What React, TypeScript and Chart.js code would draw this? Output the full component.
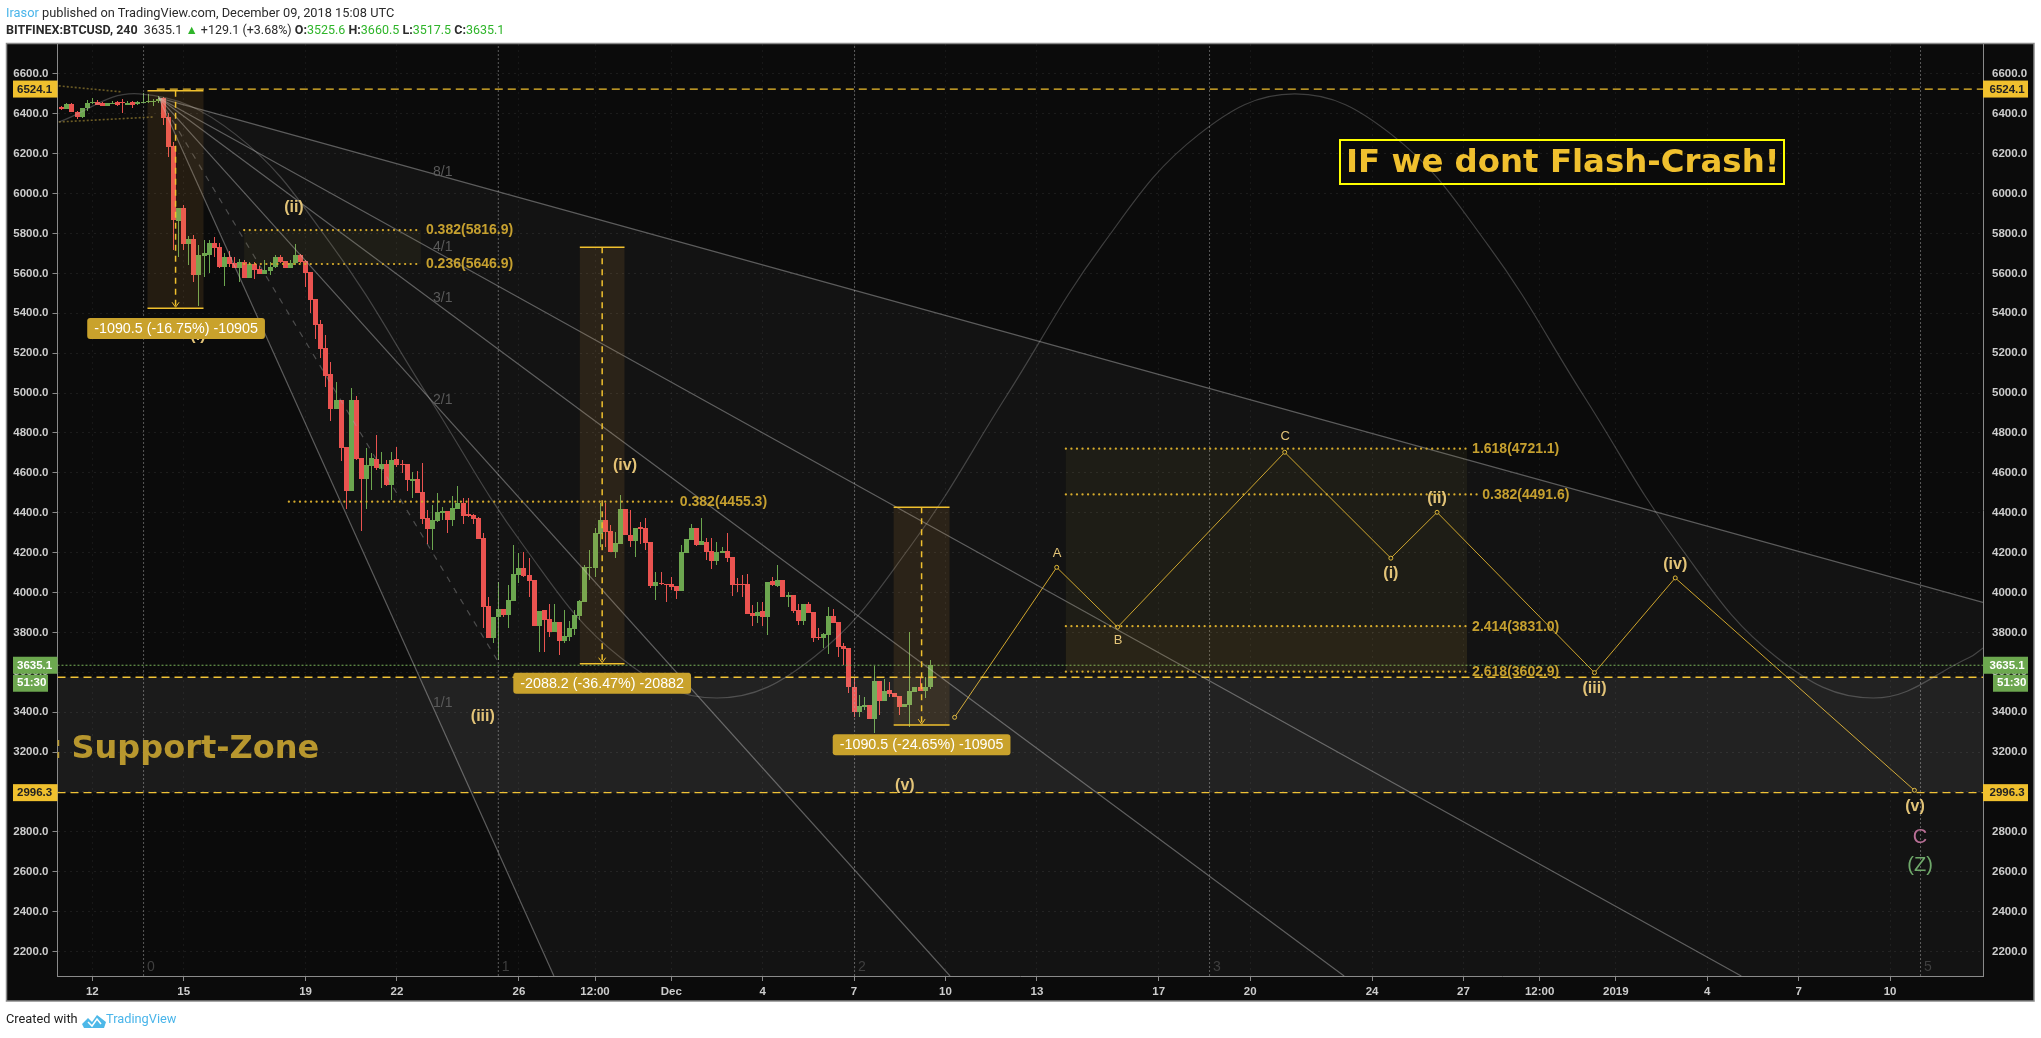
import React, { useEffect, useRef } from "react";
import { Chart } from "chart.js/auto";

// ---------- candle values, bar index -6 .. 165 (bar = 4h, 0 = 12 Nov 00:00) ----------
const firstBar = -6;
const opens = [6436,6425,6450,6411,6386,6428,6453,6460,6453,6441,6451,6460,6456,6446,6460,6450,6456,6458,6461,6463,
6478,6384,6239,5863,5926,5748,5773,5592,5689,5692,5754,5734,5632,5682,5654,5629,5659,5577,5647,5624,5597,5614,5631,5684,5662,5629,5651,5692,
5662,5607,5472,5346,5224,5096,4920,4965,4730,4511,4965,4673,4569,4636,4670,4621,4643,4539,4670,4643,4643,4561,4569,4502,4372,4319,4360,4400,4409,4364,4420,4449,4392,4389,4372,
4273,3932,3770,3876,3916,3887,3958,4088,4125,4088,4063,3834,3911,3866,3802,3852,3759,3779,3819,3884,3954,4125,4125,4293,4364,4309,4203,4243,4419,4288,4258,4327,4324,4252,4033,4049,4044,4041,4033,
4008,4198,4265,4324,4238,4252,4208,4156,4198,4210,4176,4043,4041,4041,3896,3882,3907,3879,4059,4034,4063,3979,3988,3912,3857,3942,3902,3777,3770,3787,3882,3851,3732,3722,3528,3403,3428,3434,3366,3556,3456,3511,3495,3483,3424,3436,3500,3525,3508,3525.6];
const closes = [6425,6450,6411,6386,6428,6456,6461,6446,6441,6453,6456,6445,6452,6456,6443,6460,6461,6463,6466,6475,
6381,6236,5868,5926,5748,5773,5592,5692,5704,5754,5729,5632,5682,5647,5629,5657,5577,5647,5617,5597,5617,5634,5684,5659,5629,5654,5692,5659,
5604,5467,5341,5221,5087,4920,4965,4726,4511,4965,4671,4569,4639,4673,4623,4643,4539,4664,4639,4638,4564,4569,4501,4370,4319,4364,4404,4409,4364,4424,4449,4385,4385,4369,4270,
3929,3770,3876,3916,3887,3963,4093,4125,4085,4059,3834,3907,3862,3802,3852,3759,3782,3822,3887,3958,4126,4130,4297,4364,4305,4203,4250,4419,4288,4260,4322,4320,4250,4033,4053,4043,4038,4029,4008,
4201,4268,4324,4238,4258,4203,4158,4201,4210,4173,4038,4038,4038,3892,3882,3902,3879,4053,4036,4063,3979,3986,3909,3857,3942,3899,3774,3770,3792,3882,3849,3729,3719,3525,3403,3431,3434,3366,3556,3458,3506,3491,3478,3428,3439,3505,3525,3508,3525,3635.1];
const highs = [6440,6452,6452,6412,6430,6470,6480,6470,6458,6456,6462,6462,6473,6462,6464,6465,6503,6500,6475,6488,
6485,6403,6261,5926,5943,5788,5793,5743,5768,5768,5781,5751,5701,5714,5684,5672,5667,5659,5656,5637,5667,5659,5692,5692,5662,5667,5748,5697,
5667,5607,5472,5366,5291,5154,5057,4965,4730,5024,4985,4673,4723,4698,4790,4706,4664,4706,4730,4664,4643,4606,4611,4648,4414,4439,4497,4431,4409,4486,4534,4472,4472,4394,4377,
4297,3979,3876,4054,3916,4038,4238,4197,4205,4171,4063,3907,3911,3942,3942,3852,3912,3859,3912,3963,4138,4213,4322,4451,4447,4339,4305,4489,4419,4414,4322,4355,4372,4252,4103,4101,4044,4080,4033,
4238,4268,4344,4324,4372,4272,4272,4255,4230,4297,4176,4071,4088,4093,3937,3954,3954,4053,4080,4138,4063,4004,3988,3941,3942,3954,3902,3820,3795,3926,3916,3851,3745,3722,3578,3486,3478,3434,3633,3556,3566,3553,3495,3483,3439,3800,3525,3578,3578,3660.5];
const lows = [6420,6424,6410,6375,6380,6415,6450,6444,6440,6440,6448,6440,6403,6444,6430,6446,6453,6456,6440,6455,
6344,6185,5717,5684,5717,5642,5559,5437,5584,5600,5684,5626,5539,5634,5626,5559,5577,5577,5570,5597,5597,5592,5626,5651,5626,5626,5642,5654,
5534,5403,5271,5174,5032,4862,4920,4659,4417,4511,4664,4310,4417,4514,4614,4526,4534,4464,4631,4598,4509,4472,4497,4344,4243,4213,4355,4364,4300,4335,4422,4344,4380,4344,4270,
3824,3770,3745,3662,3879,3824,3958,4046,4080,3979,3834,3700,3703,3775,3802,3687,3745,3759,3787,3862,3954,4063,4080,4230,4230,4203,4171,4243,4288,4230,4180,4243,4213,4021,3963,4036,3954,4013,3968,
4008,4198,4265,4233,4238,4163,4116,4138,4198,4151,3983,4004,3979,3892,3832,3846,3832,3787,4034,4029,3976,3929,3899,3837,3837,3896,3754,3762,3720,3692,3846,3678,3637,3495,3374,3378,3411,3366,3294,3386,3456,3478,3474,3386,3424,3327,3500,3508,3470,3517.5];

// ---------- axes ----------
const yTicks = [6600,6400,6200,6000,5800,5600,5400,5200,5000,4800,4600,4400,4200,4000,3800,3600,3400,3200,3000,2800,2600,2400,2200];
const xTickBars = [0,18,42,60,84,99,114,132,150,168,186,210,228,252,270,285,300,318,336,354];
const xTickLabels = ["12","15","19","22","26","12:00","Dec","4","7","10","13","17","20","24","27","12:00","2019","4","7","10"];
const xMin = -6.85, xMax = 372.3, yMin = 2077, yMax = 6750;

// ---------- drawings ----------
const fanApex = [13.1, 6480];
const fanEnds = [[372.3,3950],[324.7,2077],[246.5,2077],[168.9,2077],[90.9,2077]];
const fanNames = ["8/1","4/1","3/1","2/1","1/1"];
const fanLabelBar = 69;
const fanLabelPrices = [6109,5733,5477,4965,3446];
const fanDashEnd = [79.7,3662];
const sineBars = [-6.6,9.2,28.2,47.1,66.1,85.1,104,123,142,161,180,198.9,217.9,236.8,255.8,274.8,293.7,312.7,331.7,350.7,369.6,372.3];
const sinePrices = [6359,6500,6297,5743,4985,4228,3674,3471,3674,4228,4985,5743,6297,6500,6297,5743,4985,4228,3674,3471,3674,3722];
const waveBars = [169.8,189.9,201.9,234.8,255.7,264.8,295.8,311.7,358.8];
const wavePrices = [3374,4126,3826,4703,4172,4402,3598,4073,3008];
const timeZoneBars = [10.1,79.95,150.1,220,360];
const timeZoneNames = ["0","1","2","3","5"];
const hLevelHigh = 6524.1, hLevelMid = 3575, hLevelLow = 2996.3, lastPrice = 3635.1;
const hHighStart = 12.7;
const leftDots = [[[-6.6,6540],[5.7,6510]],[[-6.6,6359],[12,6384]]];

// [barFrom, barTo, priceTop, priceBottom, arrowBar, text, textBar, textPrice]
const measures: [number,number,number,number,number,string,number,number][] = [
  [10.87,21.9,6515,5425,16.4,"-1090.5 (-16.75%) -10905",16.5,5324],
  [96,104.8,5731,3643,100.4,"-2088.2 (-36.47%) -20882",100.4,3545],
  [157.8,168.8,4427,3335,163.3,"-1090.5 (-24.65%) -10905",163.3,3237],
];
// [barFrom, barTo, price, text, textBar]
const fibLevels: [number,number,number,string,number][] = [
  [29.9,64.7,5816.9,"0.382(5816.9)",65.7],
  [29.9,64.7,5646.9,"0.236(5646.9)",65.7],
  [38.7,115.1,4455.3,"0.382(4455.3)",115.7],
  [191.7,270.7,4721.1,"1.618(4721.1)",271.7],
  [191.7,272.6,4491.6,"0.382(4491.6)",273.7],
  [191.7,270.7,3831.0,"2.414(3831.0)",271.7],
  [191.7,270.7,3602.9,"2.618(3602.9)",271.7],
];
const fibFills: [number,number,number,number,string][] = [
  [29.9,64.7,5816.9,5646.9,"rgba(190,170,70,0.07)"],
  [191.7,270.7,4721.1,3602.9,"rgba(190,170,70,0.07)"],
  [191.7,270.7,3831.0,3602.9,"rgba(200,140,40,0.07)"],
];
const tanText = "#e3c478";
// [text, bar, price, colour, font]
const waveTexts: [string,number,number,string,string][] = [
  ["(ii)",39.7,5928,tanText,"bold 16px 'Liberation Sans'"],
  ["(i)",20.8,5286,tanText,"bold 16px 'Liberation Sans'"],
  ["(iii)",76.9,3376,tanText,"bold 16px 'Liberation Sans'"],
  ["(iv)",104.9,4634,tanText,"bold 16px 'Liberation Sans'"],
  ["(v)",160,3030,tanText,"bold 16px 'Liberation Sans'"],
  ["A",190,4198,tanText,"13px 'Liberation Sans'"],
  ["B",202,3762,tanText,"13px 'Liberation Sans'"],
  ["C",234.9,4780,tanText,"13px 'Liberation Sans'"],
  ["(i)",255.7,4093,tanText,"bold 16px 'Liberation Sans'"],
  ["(ii)",264.8,4471,tanText,"bold 16px 'Liberation Sans'"],
  ["(iii)",295.8,3518,tanText,"bold 16px 'Liberation Sans'"],
  ["(iv)",311.7,4138,tanText,"bold 16px 'Liberation Sans'"],
  ["(v)",358.9,2925,tanText,"bold 16px 'Liberation Sans'"],
  ["C",359.9,2774,"#b96f96","20px 'Liberation Sans'"],
  ["(Z)",359.9,2630,"#6fa86a","20px 'Liberation Sans'"],
];
// [price, text, background, foreground]
const priceTags: [number,string,string,string][] = [
  [hLevelHigh,"6524.1","#f0c02e","#222"],
  [lastPrice,"3635.1","#6ca84f","#fff"],
  [hLevelLow,"2996.3","#f0c02e","#222"],
];
const timerText = "51:30";

const RED = "#ea5350", GREEN = "#6ca64f";
const GOLD = "#f0c02e";
const FONT = "'Liberation Sans', Arial, sans-serif";

const bars = opens.map((_, i) => firstBar + i);
const candleColors = opens.map((o, i) => (closes[i] >= o ? GREEN : RED));

function seg(points: number[][], color: string, width = 1, dash: number[] = [], extra: any = {}) {
  return {
    type: "line", data: points.map(([x, y]) => ({ x, y })), borderColor: color, borderWidth: width,
    borderDash: dash, pointRadius: 0, fill: false, tension: 0, order: 1, xAxisID: "x", yAxisID: "y", ...extra,
  };
}

const drawings = {
  id: "drawings",
  beforeDraw(chart: any) {
    const c = chart.ctx;
    c.save();
    c.fillStyle = "#ffffff";
    c.fillRect(0, 0, chart.width, chart.height);
    c.fillStyle = "#0b0b0b";
    c.fillRect(6.5, 43.5, 2034 - 6.5, 1001 - 43.5);
    c.strokeStyle = "#8a8a8a";
    c.lineWidth = 1.5;
    c.strokeRect(6.5, 43.5, 2034 - 6.5, 1001 - 43.5);
    c.restore();
  },
  beforeDatasetsDraw(chart: any) {
    const c = chart.ctx, X = (v: number) => chart.scales.x.getPixelForValue(v), Y = (v: number) => chart.scales.y.getPixelForValue(v);
    const a = chart.chartArea;
    // keep candles on whole pixels so that bodies and wicks stay crisp
    [0, 1].forEach((i) => chart.getDatasetMeta(i).data.forEach((el: any) => {
      el.x = Math.floor(el.x) + 0.5;
      el.y = Math.round(el.y);
      el.base = Math.round(el.base);
    }));
    c.save();
    c.beginPath(); c.rect(a.left, a.top, a.right - a.left, a.bottom - a.top); c.clip();
    c.fillStyle = "rgba(255,255,255,0.035)";
    c.beginPath();
    c.moveTo(X(fanApex[0]), Y(fanApex[1]));
    c.lineTo(X(fanEnds[4][0]), Y(fanEnds[4][1]));
    c.lineTo(a.right, a.bottom);
    c.lineTo(X(fanEnds[0][0]), Y(fanEnds[0][1]));
    c.closePath(); c.fill();
    c.restore();
  },
  afterDatasetsDraw(chart: any) {
    const c = chart.ctx, X = (v: number) => chart.scales.x.getPixelForValue(v), Y = (v: number) => chart.scales.y.getPixelForValue(v);
    const a = chart.chartArea;
    c.save();
    c.beginPath(); c.rect(a.left, a.top, a.right - a.left, a.bottom - a.top); c.clip();
    // support zone
    c.fillStyle = "rgba(255,255,255,0.065)";
    c.fillRect(a.left, Y(hLevelMid), a.right - a.left, Y(hLevelLow) - Y(hLevelMid));
    // fib fills and levels
    fibFills.forEach(([f, t, p1, p2, col]) => {
      c.fillStyle = col;
      c.fillRect(X(f), Y(p1), X(t) - X(f), Y(p2) - Y(p1));
    });
    c.textBaseline = "middle";
    fibLevels.forEach(([f, t, p, text, tx]) => {
      c.strokeStyle = "#d6ab2c"; c.lineWidth = 2.2; c.lineCap = "round"; c.setLineDash([0.1, 5.45]);
      c.beginPath(); c.moveTo(X(f), Y(p)); c.lineTo(X(t), Y(p)); c.stroke();
      c.setLineDash([]); c.lineCap = "butt";
      c.fillStyle = "#c6a02f"; c.font = `bold 14px ${FONT}`; c.textAlign = "left";
      c.fillText(text, X(tx), Y(p) + 0.5);
    });
    // fan and time-zone labels
    c.fillStyle = "#5a5a5a"; c.font = `14px ${FONT}`;
    fanNames.forEach((n, i) => { c.textAlign = "center"; c.fillText(n, X(fanLabelBar), Y(fanLabelPrices[i])); });
    c.textAlign = "left";
    c.fillStyle = "#3f3f3f";
    timeZoneNames.forEach((n, i) => c.fillText(n, X(timeZoneBars[i]) + 3.5, Y(2122)));
    // wave labels (drawn below the measure tags)
    c.textAlign = "center";
    waveTexts.forEach(([t, b, p, col, font]) => { c.fillStyle = col; c.font = font; c.fillText(t, X(b), Y(p)); });
    // measures
    measures.forEach(([f, t, top, bot, arrow]) => {
      c.fillStyle = "rgba(240,165,70,0.115)";
      c.fillRect(X(f), Y(top), X(t) - X(f), Y(bot) - Y(top));
      c.strokeStyle = GOLD; c.lineWidth = 1.5;
      c.beginPath(); c.moveTo(X(f), Y(top)); c.lineTo(X(t), Y(top));
      c.moveTo(X(f), Y(bot)); c.lineTo(X(t), Y(bot)); c.stroke();
      c.setLineDash([6, 5]);
      c.beginPath(); c.moveTo(X(arrow), Y(top)); c.lineTo(X(arrow), Y(bot)); c.stroke();
      c.setLineDash([]); c.lineWidth = 1;
      c.beginPath(); c.moveTo(X(arrow) - 3.5, Y(bot) - 6); c.lineTo(X(arrow), Y(bot) - 1); c.lineTo(X(arrow) + 3.5, Y(bot) - 6); c.stroke();
    });
    c.fillStyle = "#b8972e"; c.font = "bold 32px 'DejaVu Sans'"; c.textAlign = "left";
    c.fillText(":", 50, Y(3210));
    c.fillText("Support-Zone", 71.5, Y(3210));
    // headline box
    c.strokeStyle = "#ffff00"; c.lineWidth = 2;
    c.strokeRect(1340, 140, 444, 44);
    c.fillStyle = "#f0c02e"; c.font = "bold 32.4px 'DejaVu Sans'"; c.textAlign = "left";
    c.fillText("IF we dont Flash-Crash!", 1346, 163.5);
    // measure tags on top
    measures.forEach(([, , , , , text, tb, tp]) => {
      c.font = `14.3px ${FONT}`; c.textAlign = "center";
      const w = c.measureText(text).width + 14;
      c.fillStyle = "#c9a22c";
      c.beginPath(); c.roundRect(X(tb) - w / 2, Y(tp) - 10.5, w, 21, 3); c.fill();
      c.fillStyle = "#fff";
      c.fillText(text, X(tb), Y(tp) + 0.5);
    });
    c.restore();
    // price tags on both axes
    c.save();
    c.textBaseline = "middle"; c.textAlign = "left"; c.font = `bold 11.5px ${FONT}`;
    priceTags.forEach(([p, text, bg, fg]) => {
      const y = Y(p);
      c.fillStyle = bg;
      c.fillRect(13, y - 8.5, a.left - 13, 17);
      c.fillRect(a.right, y - 8.5, 2028 - a.right, 17);
      c.fillStyle = fg;
      c.fillText(text, 17, y + 0.5);
      c.fillText(text, a.right + 6.5, y + 0.5);
    });
    const ty = Y(lastPrice) + 17.5;
    c.fillStyle = GREEN;
    c.fillRect(13, ty - 8, 35, 17);
    c.fillRect(1993, ty - 8, 35, 17);
    c.fillStyle = "#fff";
    c.fillText(timerText, 17, ty + 0.5);
    c.fillText(timerText, 1997, ty + 0.5);
    c.restore();
  },
};

const lineStyle: React.CSSProperties = {
  position: "absolute", left: 6, whiteSpace: "pre", fontFamily: "Roboto, sans-serif", fontSize: 12.8, color: "#2b2b2b", lineHeight: "16px",
};
const up: React.CSSProperties = { color: "#2fb52a" };

export default function App() {
  const ref = useRef<HTMLCanvasElement>(null);
  useEffect(() => {
    const yScale = (position: string, width: number, grid: boolean) => ({
      type: "linear", position, min: yMin, max: yMax,
      afterBuildTicks: (s: any) => { s.ticks = yTicks.map((value) => ({ value })); },
      afterFit: (s: any) => { s.width = width; },
      grid: { display: grid, drawOnChartArea: grid, color: "rgba(255,255,255,0.07)", tickColor: "#8a8a8a", tickLength: 5 },
      border: { display: true, color: "#8a8a8a", dash: [2, 4] },
      ticks: { color: "#cdcdcd", font: { family: FONT, size: 11.5, weight: "bold" }, padding: 4, callback: (v: number) => v.toFixed(1) },
    });
    const chart = new Chart(ref.current!, {
      type: "bar",
      data: {
        datasets: [
          { type: "bar", label: "wicks", data: bars.map((x, i) => ({ x, y: [lows[i], highs[i]] })), backgroundColor: candleColors, barThickness: 1, inflateAmount: 0, grouped: false, order: 3 },
          { type: "bar", label: "bodies", data: bars.map((x, i) => ({ x, y: [Math.min(opens[i], closes[i]), Math.max(opens[i], closes[i])] })), backgroundColor: candleColors, barThickness: 5, inflateAmount: 0, minBarLength: 1, grouped: false, order: 2 },
          ...fanEnds.map((e) => seg([fanApex, e], "rgba(200,200,200,0.42)", 1.2)),
          seg([fanApex, fanDashEnd], "rgba(170,170,170,0.38)", 1.2, [6, 7]),
          seg(sineBars.map((b, i) => [b, sinePrices[i]]), "rgba(170,170,170,0.33)", 1.2, [], { tension: 0.4 }),
          ...timeZoneBars.map((b) => seg([[b, yMin], [b, yMax]], "rgba(170,170,170,0.5)", 1, [2, 2])),
          seg([[hHighStart, hLevelHigh], [xMax, hLevelHigh]], GOLD, 1.3, [8, 5]),
          seg([[xMin, hLevelMid], [xMax, hLevelMid]], GOLD, 1.3, [8, 5]),
          seg([[xMin, hLevelLow], [xMax, hLevelLow]], GOLD, 1.3, [8, 5]),
          seg([[xMin, lastPrice], [xMax, lastPrice]], "#79b35a", 1, [2, 2]),
          ...leftDots.map((d) => seg(d, "rgba(190,160,60,0.55)", 1.6, [2, 2])),
          seg(waveBars.map((b, i) => [b, wavePrices[i]]), "#cfa52c", 1, [], {
            pointRadius: 2, pointBackgroundColor: "#141414", pointBorderColor: "#e3bb3a", pointBorderWidth: 1,
          }),
        ] as any,
      },
      options: {
        responsive: false, animation: false, devicePixelRatio: 1,
        layout: { padding: { left: 7, right: 7, top: 44, bottom: 37 } },
        plugins: { legend: { display: false }, tooltip: { enabled: false } },
        scales: {
          x: {
            type: "linear", offset: false, min: xMin, max: xMax,
            afterBuildTicks: (s: any) => { s.ticks = xTickBars.map((value) => ({ value })); },
            afterFit: (s: any) => { s.height = 25; },
            grid: { offset: false, color: "rgba(255,255,255,0.055)", tickColor: "#8a8a8a", tickLength: 5 },
            border: { display: true, color: "#8a8a8a", dash: [2, 4] },
            ticks: {
              autoSkip: false, maxRotation: 0, color: "#cdcdcd", padding: 4,
              font: { family: FONT, size: 11.5, weight: "bold" },
              callback: (v: number) => xTickLabels[xTickBars.indexOf(v)] ?? "",
            },
          },
          y: yScale("left", 50.5, true),
          yRight: yScale("right", 51, false),
        },
      } as any,
      plugins: [drawings],
    });
    return () => chart.destroy();
  }, []);

  return (
    <div style={{ position: "absolute", left: 0, top: 0, width: 2041, height: 1038, background: "#fff", overflow: "hidden" }}>
      <canvas ref={ref} width={2041} height={1038} style={{ display: "block", width: 2041, height: 1038 }} />
      <div style={{ ...lineStyle, top: 5 }}>
        <span style={{ color: "#4ab5ea" }}>Irasor</span> published on TradingView.com, December 09, 2018 15:08 UTC
      </div>
      <div style={{ ...lineStyle, top: 22, fontSize: 12.5 }}>
        <b>BITFINEX:BTCUSD, 240</b>  3635.1 <span style={up}>▲</span> +129.1 (+3.68%) <b>O:</b><span style={up}>3525.6</span> <b>H:</b><span style={up}>3660.5</span> <b>L:</b><span style={up}>3517.5</span> <b>C:</b><span style={up}>3635.1</span>
      </div>
      <div style={{ ...lineStyle, top: 1011, color: "#222" }}>Created with</div>
      <svg style={{ position: "absolute", left: 82, top: 1013 }} width="24" height="16" viewBox="0 0 24 16">
        <path d="M0 11 L6 5 L10 9 L15 2 L24 9 L22 15 L2 15 Z" fill="#4db8e8" />
        <path d="M6 9 L10 13 L15 6 L19 11" stroke="#fff" strokeWidth="1.5" fill="none" />
      </svg>
      <div style={{ ...lineStyle, left: 106, top: 1011, color: "#4ab5ea" }}>TradingView</div>
    </div>
  );
}
